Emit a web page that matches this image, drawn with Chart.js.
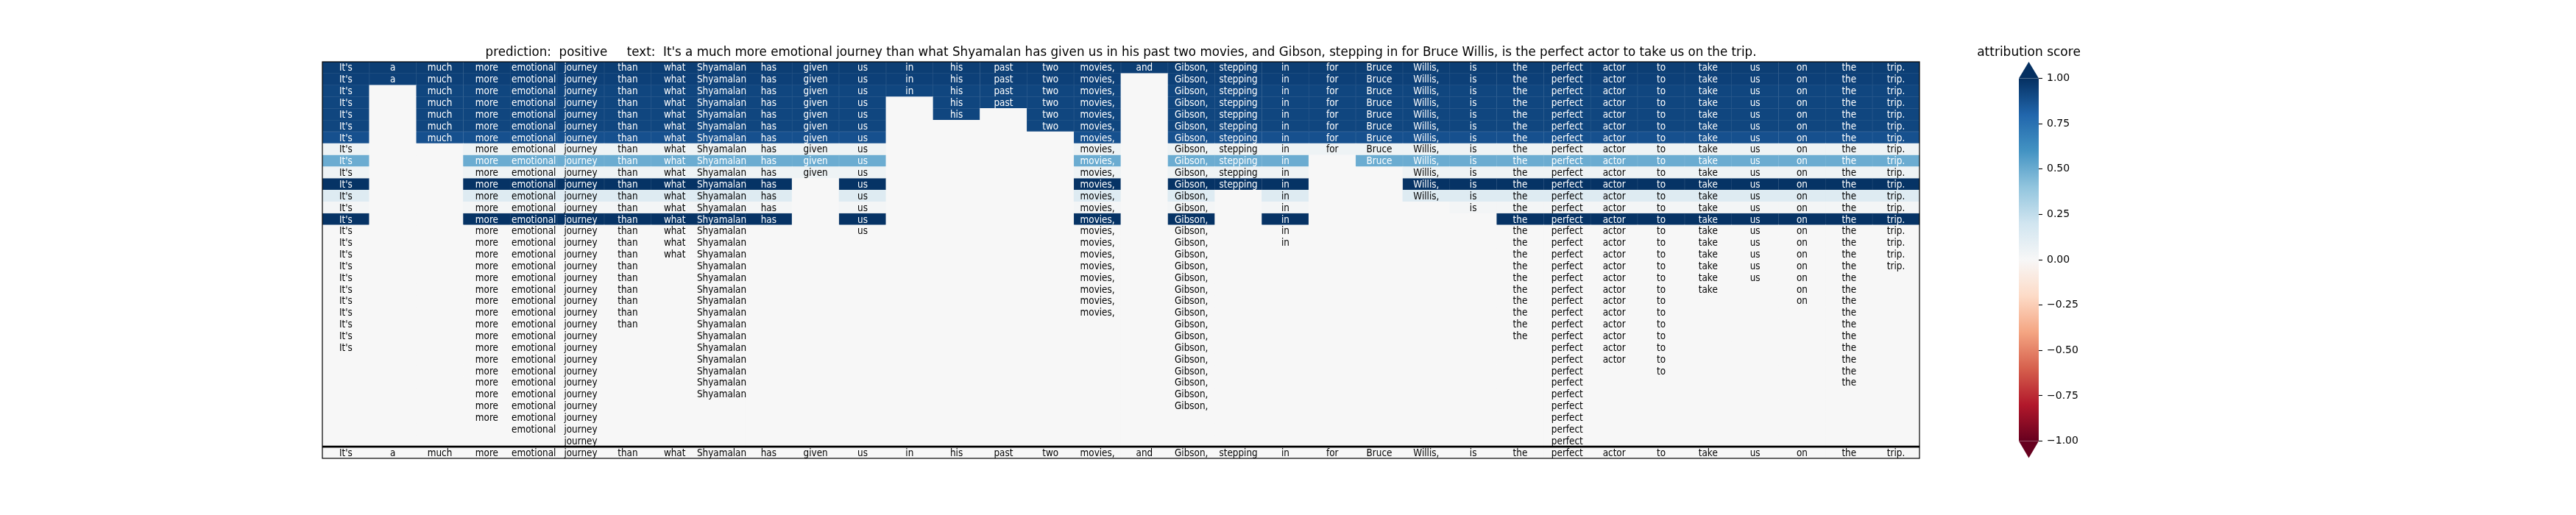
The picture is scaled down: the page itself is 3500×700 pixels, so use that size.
<!DOCTYPE html>
<html>
<head>
<meta charset="utf-8">
<title>Hierarchical attribution</title>
<script src="https://cdn.jsdelivr.net/npm/chart.js@4.4.1/dist/chart.umd.min.js"></script>
<style>
  html, body { margin: 0; padding: 0; background: #fff; }
  #wrap { position: relative; width: 3500px; height: 700px; }
  #heat { position: absolute; left: 0; top: 0; }
  #cbar { position: absolute; left: 2650px; top: 0; }
</style>
</head>
<body>
<div id="wrap">
  <canvas id="heat" width="3500" height="700"></canvas>
  <canvas id="cbar" width="300" height="700"></canvas>
</div>
<script>
const predictionLabel = "positive";

const tokens = [
    "It's","a","much","more","emotional","journey","than","what","Shyamalan","has",
    "given","us","in","his","past","two","movies,","and","Gibson,","stepping",
    "in","for","Bruce","Willis,","is","the","perfect","actor","to","take",
    "us","on","the","trip."
];

// how many levels (rows, counted from the top) each token survives
const tokenDepth = [
    25, 2, 7, 31, 32, 33, 23, 17, 29, 14,
    10, 15, 3, 5, 4, 6, 22, 1, 30, 11,
    16, 8, 9, 12, 13, 24, 33, 26, 27, 20,
    19, 21, 28, 18
];

// attribution score of each level, top row first
const levelScores = [
    0.95, 0.94, 0.92, 0.92, 0.92, 0.92, 0.88, 0.05, 0.50, 0.05,
    0.99, 0.13, 0.02, 0.99, 0, 0, 0, 0, 0, 0,
    0, 0, 0, 0, 0, 0, 0, 0, 0, 0,
    0, 0, 0
];

const colorbarTicks = [1, 0.75, 0.5, 0.25, 0, -0.25, -0.5, -0.75, -1];

// RdBu colormap, from -1 to +1
const rdbuColors = [
    "#67001f","#b2182b","#d6604d","#f4a582","#fddbc7","#f7f7f7",
    "#d1e5f0","#92c5de","#4393c3","#2166ac","#053061"
];

const nLevels = levelScores.length;
const fontFamily = '"DejaVu Sans", "Noto Sans", sans-serif';

function hexToRgb(h) {
    return [1, 3, 5].map(i => parseInt(h.substr(i, 2), 16));
}

function scoreRgb(v) {
    const p = (Math.max(-1, Math.min(1, v)) + 1) / 2 * (rdbuColors.length - 1);
    const i = Math.min(Math.floor(p), rdbuColors.length - 2);
    const t = p - i;
    const a = hexToRgb(rdbuColors[i]);
    const b = hexToRgb(rdbuColors[i + 1]);
    return a.map((va, k) => va + (b[k] - va) * t);
}

function toCss(c) {
    return `rgb(${c.map(Math.round).join(',')})`;
}

function scoreColor(v) {
    return toCss(scoreRgb(v));
}

// slightly lighter edge, like the seams between the original cells
function edgeColor(v) {
    return toCss(scoreRgb(v).map(ch => ch + (255 - ch) * 0.12));
}

// one cell per (level, token); tokens already removed keep a blank zero cell
const cells = [];
levelScores.forEach((score, row) => {
    tokens.forEach((tok, col) => {
        const kept = row < tokenDepth[col];
        cells.push({x: String(col), y: [row, row + 1], score: kept ? score : 0, word: kept ? tok : ''});
    });
});
// reference row with the whole sentence
tokens.forEach((tok, col) => {
    cells.push({x: String(col), y: [nLevels, nLevels + 1], score: 0, word: tok});
});

function drawSqueezed(ctx, text, x, y, sx) {
    ctx.save();
    ctx.translate(x, y);
    ctx.scale(sx, 1);
    ctx.fillText(text, 0, 0);
    ctx.restore();
}

const heatmapText = {
    id: 'heatmapText',
    afterDatasetsDraw(chart) {
        const ctx = chart.ctx;
        const meta = chart.getDatasetMeta(0);
        ctx.save();
        ctx.font = '14px ' + fontFamily;
        ctx.textAlign = 'center';
        ctx.textBaseline = 'alphabetic';
        meta.data.forEach((bar, i) => {
            const cell = cells[i];
            if (!cell.word) return;
            const {x, y, base} = bar.getProps(['x', 'y', 'base'], true);
            ctx.fillStyle = Math.abs(cell.score) > 0.4 ? '#ffffff' : '#000000';
            drawSqueezed(ctx, cell.word, x, (y + base) / 2 + 4.5, 0.86);
        });

        const {left, right, top, bottom} = chart.chartArea;
        const split = chart.scales.y.getPixelForValue(nLevels);
        ctx.strokeStyle = '#000';
        ctx.lineWidth = 1.2;
        ctx.strokeRect(left, top, right - left, bottom - top);
        ctx.lineWidth = 2.6;
        ctx.beginPath();
        ctx.moveTo(left, split);
        ctx.lineTo(right, split);
        ctx.stroke();

        // title
        ctx.font = '17.5px ' + fontFamily;
        ctx.fillStyle = '#000';
        const title = 'prediction:  ' + predictionLabel + '     text:  ' + tokens.join(' ');
        drawSqueezed(ctx, title, (left + right) / 2, 76, 0.955);
        ctx.restore();
    }
};

new Chart(document.getElementById('heat'), {
    type: 'bar',
    data: {
        labels: tokens.map((_, i) => String(i)),
        datasets: [{
            data: cells,
            backgroundColor: c => scoreColor(c.raw.score),
            borderColor: c => edgeColor(c.raw.score),
            borderWidth: c => (c.raw.score > 0.4 ? 0.6 : 0),
            borderSkipped: false,
            barPercentage: 1,
            categoryPercentage: 1
        }]
    },
    options: {
        responsive: false,
        animation: false,
        events: [],
        layout: { padding: { left: 438, right: 892, top: 84, bottom: 77 } },
        plugins: { legend: { display: false }, tooltip: { enabled: false } },
        scales: {
            x: { type: 'category', display: false },
            y: { type: 'linear', min: 0, max: nLevels + 1, reverse: true, display: false }
        }
    },
    plugins: [heatmapText]
});

const colorbarExtras = {
    id: 'colorbarExtras',
    afterDatasetsDraw(chart) {
        const ctx = chart.ctx;
        const {left, right, top, bottom} = chart.chartArea;
        const mid = (left + right) / 2;
        ctx.save();
        ctx.fillStyle = scoreColor(1);
        ctx.beginPath();
        ctx.moveTo(left, top); ctx.lineTo(right, top); ctx.lineTo(mid, top - 22.5);
        ctx.closePath(); ctx.fill();
        ctx.fillStyle = scoreColor(-1);
        ctx.beginPath();
        ctx.moveTo(left, bottom); ctx.lineTo(right, bottom); ctx.lineTo(mid, bottom + 23);
        ctx.closePath(); ctx.fill();

        ctx.font = '17px ' + fontFamily;
        ctx.fillStyle = '#000';
        ctx.textAlign = 'center';
        ctx.fillText('attribution score', mid, 76);
        ctx.restore();
    }
};

new Chart(document.getElementById('cbar'), {
    type: 'bar',
    data: {
        labels: [''],
        datasets: [{
            data: [[-1, 1]],
            backgroundColor: c => {
                const area = c.chart.chartArea;
                if (!area) return scoreColor(0);
                const g = c.chart.ctx.createLinearGradient(0, area.bottom, 0, area.top);
                rdbuColors.forEach((col, i) => g.addColorStop(i / (rdbuColors.length - 1), col));
                return g;
            },
            borderWidth: 0,
            barPercentage: 1,
            categoryPercentage: 1
        }]
    },
    options: {
        responsive: false,
        animation: false,
        events: [],
        layout: { padding: { left: 93, right: 60, top: 106.5, bottom: 100.5 } },
        plugins: { legend: { display: false }, tooltip: { enabled: false } },
        scales: {
            x: { display: false },
            y: {
                position: 'right',
                min: -1,
                max: 1,
                afterFit: s => { s.width = 120; },
                afterBuildTicks: s => { s.ticks = colorbarTicks.map(v => ({value: v})); },
                border: { display: false },
                grid: { drawOnChartArea: false, tickLength: 5, tickColor: '#000', tickWidth: 1.1 },
                ticks: {
                    padding: 6,
                    color: '#000',
                    font: { family: fontFamily, size: 14 },
                    callback: v => v.toFixed(2).replace('-', '\u2212')
                }
            }
        }
    },
    plugins: [colorbarExtras]
});
</script>
</body>
</html>
